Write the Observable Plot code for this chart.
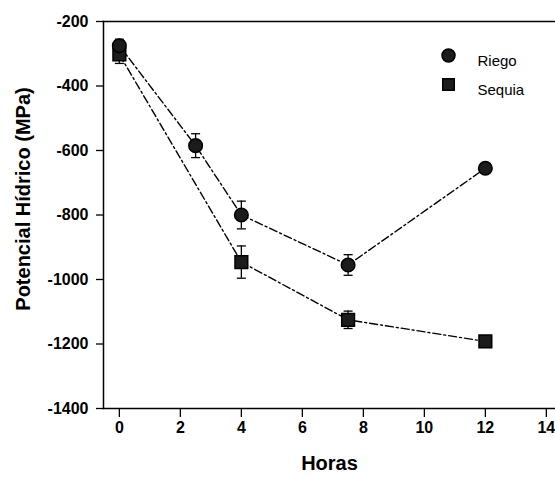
<!DOCTYPE html>
<html><head><meta charset="utf-8">
<script src="https://cdn.jsdelivr.net/npm/d3@7"></script>
<script src="https://cdn.jsdelivr.net/npm/@observablehq/plot@0.6"></script>
<style>body{margin:0;background:#fff}</style>
</head><body><div id="chart"></div>
<script>
// Data
const riegoHoras = [0, 2.5, 4, 7.5, 12];
const riegoValores = [-275, -585, -800, -955, -655];
const riegoError = [20, 37, 43, 32, 8];
const sequiaHoras = [0, 4, 7.5, 12];
const sequiaValores = [-302, -946, -1125, -1192];
const sequiaError = [28, 50, 27, 12];
const xTicks = [0, 2, 4, 6, 8, 10, 12, 14];
const yTicks = [-1400, -1200, -1000, -800, -600, -400, -200];
const seriesNames = ["Riego", "Sequia"];
const xLabel = "Horas";
const yLabel = "Potencial Hídrico (MPa)";

const riego = riegoHoras.map((h, i) => ({h, v: riegoValores[i], e: riegoError[i]}));
const sequia = sequiaHoras.map((h, i) => ({h, v: sequiaValores[i], e: sequiaError[i]}));

const cap = {draw(ctx, size) { const r = Math.sqrt(size / Math.PI); ctx.moveTo(-r, 0); ctx.lineTo(r, 0); }};
const font = "'Liberation Sans', Arial, Helvetica, sans-serif";
const dash = "8,3,2,3";
const fill = "#1c1c1c";

function errMarks(data) {
  return [
    Plot.ruleX(data, {x: "h", y1: d => d.v - d.e, y2: d => d.v + d.e, stroke: "black", strokeWidth: 1.3}),
    Plot.dot(data, {x: "h", y: d => d.v - d.e, symbol: cap, r: 4.5, stroke: "black", strokeWidth: 1.3}),
    Plot.dot(data, {x: "h", y: d => d.v + d.e, symbol: cap, r: 4.5, stroke: "black", strokeWidth: 1.3})
  ];
}

const chart = Plot.plot({
  width: 555,
  height: 477,
  marginLeft: 103,
  marginRight: 0,
  marginTop: 21,
  marginBottom: 69,
  style: {fontFamily: font, background: "#fff", overflow: "visible"},
  x: {domain: [-0.52, 14.3]},
  y: {domain: [-1400, -200]},
  marks: [
    Plot.frame({anchor: "top", stroke: "black", strokeWidth: 1.5}),
    Plot.frame({anchor: "left", stroke: "black", strokeWidth: 1.5}),
    Plot.frame({anchor: "bottom", stroke: "black", strokeWidth: 1.5}),
    Plot.axisX(xTicks, {tickSize: 9, tickPadding: 4, tickFormat: d => String(d), fontSize: 16, fontWeight: "bold", label: null, strokeWidth: 1.3}),
    Plot.axisY(yTicks, {tickSize: 7, tickPadding: 8, tickFormat: d => String(d), fontSize: 16, fontWeight: "bold", label: null, strokeWidth: 1.3}),
    Plot.text([xLabel], {frameAnchor: "bottom", dy: 61, fontSize: 20, fontWeight: "bold", text: d => d}),
    Plot.text([yLabel], {frameAnchor: "left", dx: -80, dy: -16, rotate: -90, textAnchor: "middle", fontSize: 20, fontWeight: "bold", text: d => d}),
    Plot.line(riego, {x: "h", y: "v", stroke: "black", strokeWidth: 1.4, strokeDasharray: dash}),
    Plot.line(sequia, {x: "h", y: "v", stroke: "black", strokeWidth: 1.4, strokeDasharray: dash}),
    ...errMarks(sequia),
    ...errMarks(riego),
    Plot.dot(sequia, {x: "h", y: "v", symbol: "square", r: 7.2, fill, stroke: "black"}),
    Plot.dot(riego, {x: "h", y: "v", symbol: "circle", r: 6.8, fill, stroke: "black"}),
    // legend
    Plot.dot([seriesNames[0]], {frameAnchor: "top-left", dx: 345, dy: 34, symbol: "circle", r: 6.5, fill, stroke: "black"}),
    Plot.dot([seriesNames[1]], {frameAnchor: "top-left", dx: 345, dy: 63, symbol: "square", r: 6.5, fill, stroke: "black"}),
    Plot.text([seriesNames[0]], {frameAnchor: "top-left", dx: 374, dy: 34, text: d => d, textAnchor: "start", fontSize: 15}),
    Plot.text([seriesNames[1]], {frameAnchor: "top-left", dx: 374, dy: 63, text: d => d, textAnchor: "start", fontSize: 15})
  ]
});
document.getElementById("chart").appendChild(chart);
</script>
</body></html>
